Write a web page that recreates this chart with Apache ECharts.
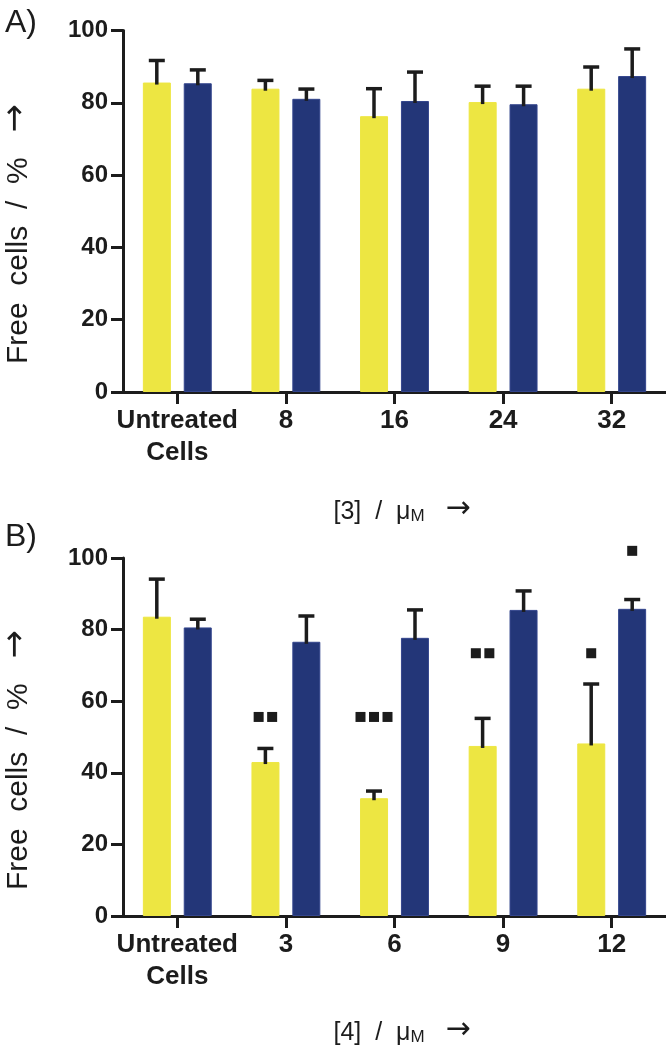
<!DOCTYPE html>
<html>
<head>
<meta charset="utf-8">
<script src="https://cdn.jsdelivr.net/npm/echarts@6/dist/echarts.min.js"></script>
<style>
  html, body { margin: 0; padding: 0; background: #ffffff; }
  #chart { width: 666px; height: 1050px; }
</style>
</head>
<body>
<div id="chart"></div>
<script>
// ---------- data ----------
const catsA = ['Untreated\nCells', '8', '16', '24', '32'];
const yellowA = [85.6, 83.9, 76.3, 80.2, 83.9];
const yellowAErr = [6.1, 2.3, 7.6, 4.4, 6.0];
const blueA = [85.4, 81.1, 80.5, 79.6, 87.4];
const blueAErr = [3.7, 2.7, 8.0, 5.0, 7.5];

const catsB = ['Untreated\nCells', '3', '6', '9', '12'];
const yellowB = [83.6, 43.0, 32.9, 47.5, 48.2];
const yellowBErr = [10.5, 3.8, 2.0, 7.7, 16.6];
const blueB = [80.6, 76.6, 77.7, 85.5, 85.8];
const blueBErr = [2.3, 7.2, 7.8, 5.3, 2.6];

// significance markers in panel B: category index, height, number of squares, bar (0 = yellow, 1 = blue)
const sigCat = [1, 2, 3, 4, 4];
const sigValue = [55.6, 55.6, 73.4, 73.4, 102];
const sigCount = [2, 3, 2, 1, 1];
const sigBar = [0, 0, 0, 0, 1];

const yTicks = [0, 20, 40, 60, 80, 100];
const xTitleA = '[3]';
const xTitleB = '[4]';
const yTitle = 'Free  cells  /  %';

// ---------- styling ----------
const INK = '#1c1c1c';
const YELLOW = '#ede642';
const BLUE = '#233678';
const FONT = 'Liberation Sans, Arial, Helvetica, DejaVu Sans, sans-serif';
const ARROW_FONT = 'DejaVu Sans, sans-serif';
const BAR_W = 28;
const OFFSET = 20.5;   // half of (bar width + gap)

const chart = echarts.init(document.getElementById('chart'), null, { renderer: 'canvas' });

function errRender(offset) {
  return function (params, api) {
    const base = api.coord([api.value(0), api.value(1)]);
    const top = api.coord([api.value(0), api.value(1) + api.value(2)]);
    const cx = base[0] + offset;
    const st = { stroke: INK, lineWidth: 3.5 };
    return {
      type: 'group',
      children: [
        { type: 'line', shape: { x1: cx, y1: base[1] + 2, x2: cx, y2: top[1] }, style: st },
        { type: 'line', shape: { x1: cx - 8, y1: top[1], x2: cx + 8, y2: top[1] }, style: st }
      ]
    };
  };
}

function sigRender(params, api) {
  const p = api.coord([api.value(0), api.value(1)]);
  const n = api.value(2);
  const cx = p[0] + (api.value(3) === 1 ? OFFSET : -OFFSET);
  const size = 10, pitch = 13.5;
  const children = [];
  const start = cx - (pitch * (n - 1)) / 2;
  for (let k = 0; k < n; k++) {
    children.push({
      type: 'rect',
      shape: { x: start + k * pitch - size / 2, y: p[1] - size / 2, width: size, height: size },
      style: { fill: INK }
    });
  }
  return { type: 'group', children };
}

function makeX(idx, cats) {
  return {
    type: 'category', gridIndex: idx, data: cats, boundaryGap: true,
    axisLine: { show: true, lineStyle: { color: INK, width: 3 } },
    axisTick: { show: true, alignWithLabel: true, length: 12, lineStyle: { color: INK, width: 3 } },
    axisLabel: { interval: 0, color: INK, fontFamily: FONT, fontWeight: 'bold', fontSize: 26, lineHeight: 32, margin: 13 },
    splitLine: { show: false }
  };
}
function makeY(idx) {
  return {
    type: 'value', gridIndex: idx, min: yTicks[0], max: yTicks[yTicks.length - 1], interval: yTicks[1] - yTicks[0],
    axisLine: { show: true, lineStyle: { color: INK, width: 3 } },
    axisTick: { show: true, length: 12, lineStyle: { color: INK, width: 3 } },
    axisLabel: { color: INK, fontFamily: FONT, fontWeight: 'bold', fontSize: 24, margin: 15 },
    splitLine: { show: false }
  };
}
function barSeries(idx, data, color, name) {
  return {
    type: 'bar', name, xAxisIndex: idx, yAxisIndex: idx, data,
    barWidth: BAR_W, barGap: '46%',
    itemStyle: { color, borderColor: color === BLUE ? '#33458c' : color, borderWidth: 1 },
    emphasis: { disabled: true }, z: 2
  };
}
function errSeries(idx, vals, errs, offset) {
  return {
    type: 'custom', xAxisIndex: idx, yAxisIndex: idx,
    data: vals.map((v, i) => [i, v, errs[i]]),
    encode: { x: 0, y: 1 },
    renderItem: errRender(offset), z: 3, silent: true
  };
}

function xTitle(label, y) {
  return {
    type: 'text', x: 402, y: y,
    style: {
      text: '{a|' + label + '  /  μ}{m|M}{a|   }{r|→}',
      rich: {
        a: { fontFamily: FONT, fontSize: 25, lineHeight: 25, fill: INK, verticalAlign: 'bottom' },
        m: { fontFamily: FONT, fontSize: 17, lineHeight: 17, fill: INK, verticalAlign: 'bottom' },
        r: { fontFamily: ARROW_FONT, fontSize: 30, lineHeight: 25, fill: INK, verticalAlign: 'bottom' }
      },
      align: 'center', verticalAlign: 'middle'
    }
  };
}
function yTitleEl(y) {
  return {
    type: 'text', x: 18.5, y: y, rotation: Math.PI / 2,
    style: {
      text: '{a|' + yTitle + '   }{r|→}',
      rich: {
        a: { fontFamily: FONT, fontSize: 30, lineHeight: 30, fill: INK, verticalAlign: 'bottom' },
        r: { fontFamily: ARROW_FONT, fontSize: 34, lineHeight: 30, fill: INK, verticalAlign: 'bottom' }
      },
      align: 'center', verticalAlign: 'middle'
    }
  };
}

const option = {
  backgroundColor: '#ffffff',
  animation: false,
  grid: [
    { left: 123, top: 30.5, width: 544, height: 361.5 },
    { left: 123, top: 558, width: 544, height: 358 }
  ],
  xAxis: [makeX(0, catsA), makeX(1, catsB)],
  yAxis: [makeY(0), makeY(1)],
  series: [
    barSeries(0, yellowA, YELLOW, 'yellow A'),
    barSeries(0, blueA, BLUE, 'blue A'),
    barSeries(1, yellowB, YELLOW, 'yellow B'),
    barSeries(1, blueB, BLUE, 'blue B'),
    errSeries(0, yellowA, yellowAErr, -OFFSET),
    errSeries(0, blueA, blueAErr, OFFSET),
    errSeries(1, yellowB, yellowBErr, -OFFSET),
    errSeries(1, blueB, blueBErr, OFFSET),
    {
      type: 'custom', xAxisIndex: 1, yAxisIndex: 1,
      data: sigCat.map((c, i) => [c, sigValue[i], sigCount[i], sigBar[i]]),
      encode: { x: 0, y: 1 },
      renderItem: sigRender, z: 4, silent: true, clip: false
    }
  ],
  graphic: [
    { type: 'text', x: 5, y: 23.5, style: { text: 'A)', fontFamily: FONT, fontSize: 32, fill: INK, align: 'left', verticalAlign: 'middle' } },
    { type: 'text', x: 5, y: 537, style: { text: 'B)', fontFamily: FONT, fontSize: 32, fill: INK, align: 'left', verticalAlign: 'middle' } },
    yTitleEl(234),
    yTitleEl(760),
    xTitle(xTitleA, 512),
    xTitle(xTitleB, 1033)
  ]
};

chart.setOption(option);
</script>
</body>
</html>
